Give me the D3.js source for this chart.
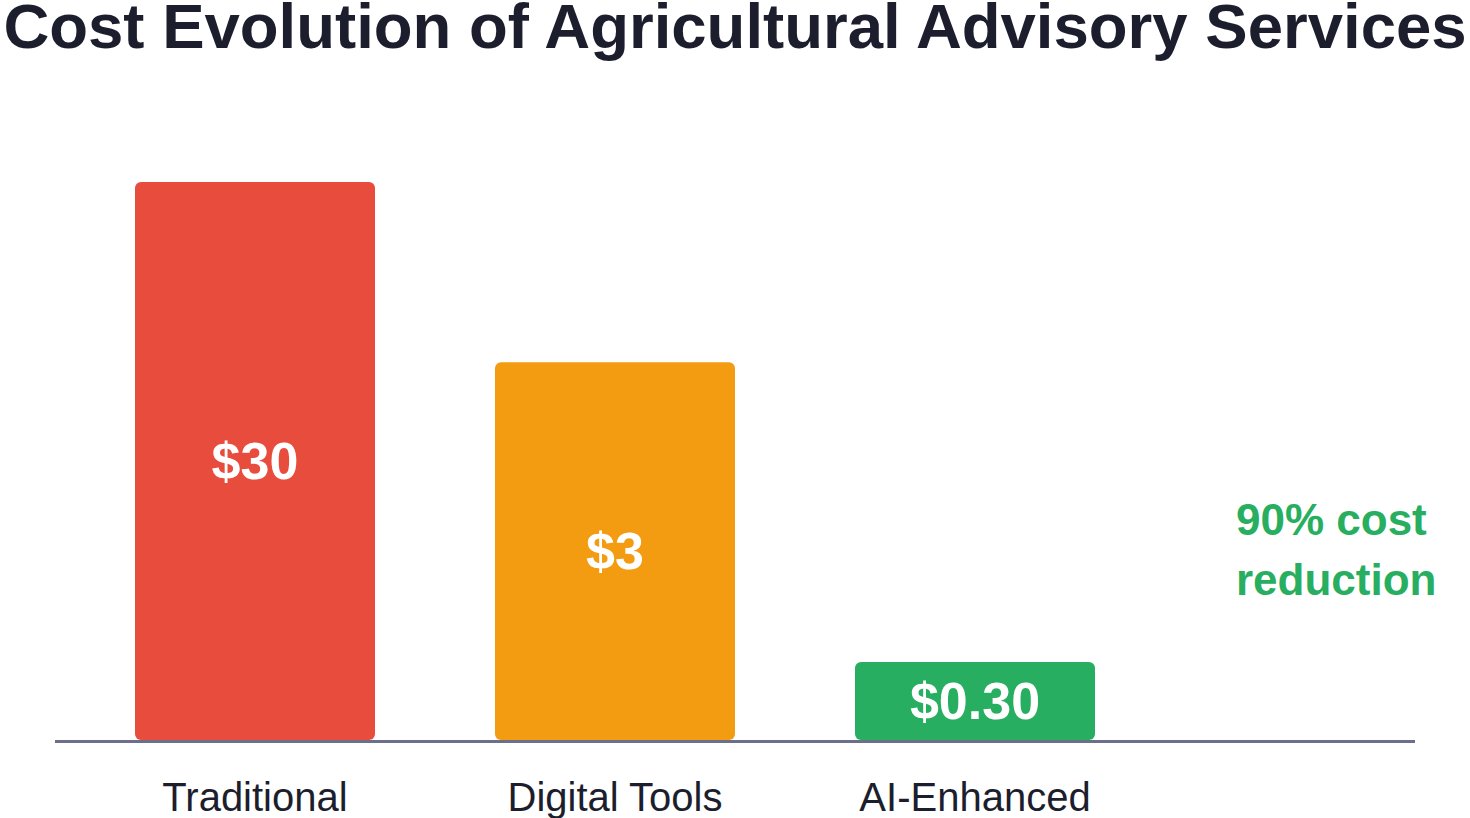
<!DOCTYPE html>
<html>
<head>
<meta charset="utf-8">
<script src="https://cdn.jsdelivr.net/npm/d3@7"></script>
<style>
  html, body { margin: 0; padding: 0; background: #fff; }
  svg { display: block; font-family: "Liberation Sans", Arial, sans-serif; }
</style>
</head>
<body>
<div id="chart"></div>
<script>
const categories = ["Traditional", "Digital Tools", "AI-Enhanced"]
const costLabels = ["$30", "$3", "$0.30"]
// relative bar height (visual index, tallest = 100)
const barIndex = [100, 67.7, 14]
const colors = ["#e74c3c", "#f39c12", "#27ae60"]
const noteLines = ["90% cost", "reduction"]

const width = 1470
const height = 818
const baseY = 740

const svg = d3.select("#chart")
  .append("svg")
  .attr("width", width)
  .attr("height", height)

svg.append("text")
  .attr("x", width / 2)
  .attr("y", 48)
  .attr("text-anchor", "middle")
  .attr("font-size", 63.5)
  .attr("font-weight", "bold")
  .attr("fill", "#1c1e2d")
  .text("Cost Evolution of Agricultural Advisory Services")

const x = d3.scaleBand()
  .domain(categories)
  .range([75, 1155])
  .paddingInner(1 / 3)
  .paddingOuter(1 / 6)

const y = d3.scaleLinear()
  .domain([0, 100])
  .range([baseY, 182])

const bars = svg.append("g")
  .selectAll("g")
  .data(categories)
  .join("g")

bars.append("rect")
  .attr("x", d => x(d))
  .attr("y", (d, i) => y(barIndex[i]))
  .attr("width", x.bandwidth())
  .attr("height", (d, i) => y(0) - y(barIndex[i]))
  .attr("rx", 6)
  .attr("fill", (d, i) => colors[i])

bars.append("text")
  .attr("x", d => x(d) + x.bandwidth() / 2)
  .attr("y", (d, i) => (y(barIndex[i]) + y(0)) / 2)
  .attr("dy", "0.35em")
  .attr("text-anchor", "middle")
  .attr("font-size", 52)
  .attr("font-weight", "bold")
  .attr("fill", "#fff")
  .text((d, i) => costLabels[i])

// baseline
svg.append("line")
  .attr("x1", 55)
  .attr("x2", 1415)
  .attr("y1", baseY + 1.5)
  .attr("y2", baseY + 1.5)
  .attr("stroke", "#6b6f8a")
  .attr("stroke-width", 3)

svg.append("g")
  .selectAll("text")
  .data(categories)
  .join("text")
  .attr("x", d => x(d) + x.bandwidth() / 2)
  .attr("y", 811)
  .attr("text-anchor", "middle")
  .attr("font-size", 40)
  .attr("fill", "#1c1e2d")
  .text(d => d)

svg.append("text")
  .attr("x", 1236)
  .attr("y", 535)
  .attr("font-size", 44)
  .attr("font-weight", "bold")
  .attr("fill", "#27ae60")
  .selectAll("tspan")
  .data(noteLines)
  .join("tspan")
  .attr("x", 1236)
  .attr("dy", (d, i) => i === 0 ? 0 : 60)
  .text(d => d)
</script>
</body>
</html>
